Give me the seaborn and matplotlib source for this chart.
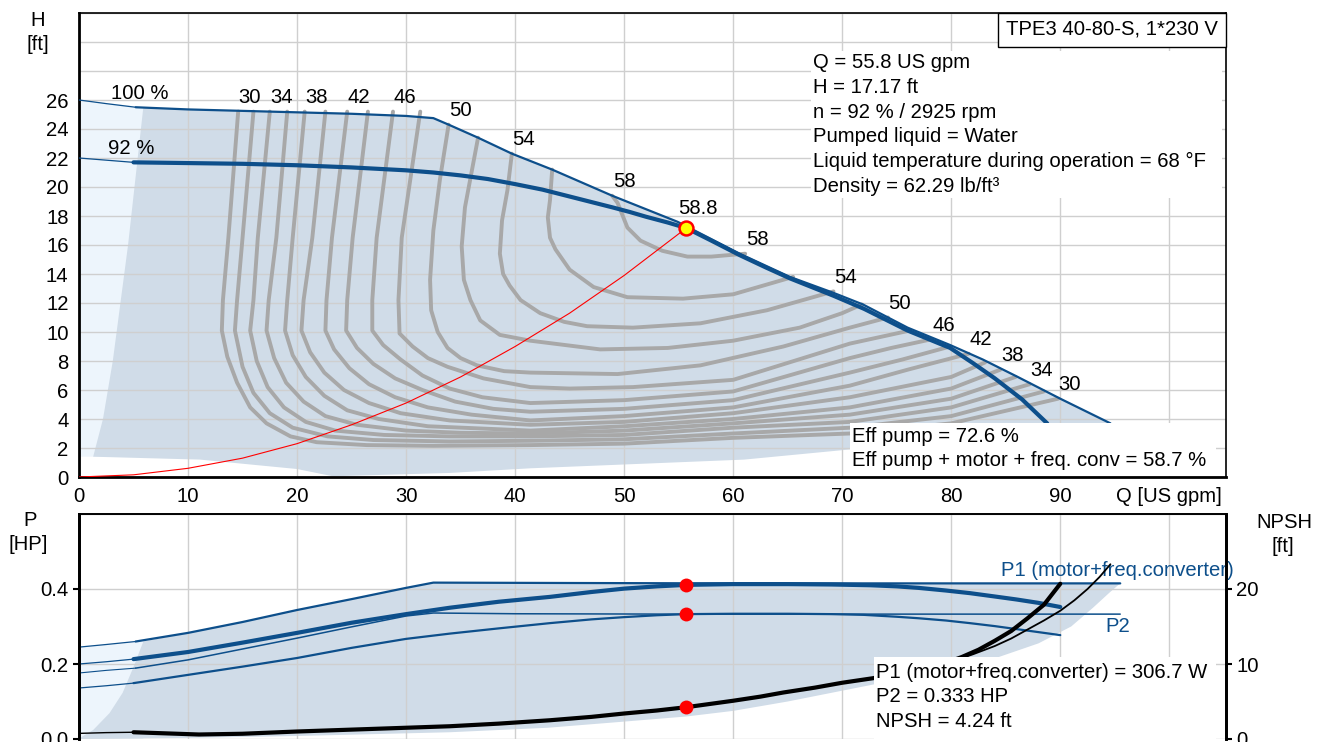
import matplotlib
matplotlib.use("Agg")
import matplotlib.pyplot as plt
import matplotlib.patches as mpatches
import pandas as pd
import seaborn as sns

# ---- QH curves (Q in US gpm, H in ft) ----
full_thin_q = [0, 2.5, 5.2]
full_thin_h = [26.0, 25.75, 25.5]
full_q = [5.2, 10, 15, 20, 25, 30, 32.5, 33.9, 36.6, 39.7, 43.4, 48.9, 54.9, 60.6,
          65.2, 69.2, 71.9, 76.0, 79.9, 82.9, 86.1, 90.0, 94.6]
full_h = [25.5, 25.35, 25.25, 25.15, 25.05, 24.9, 24.75, 24.3, 23.4, 22.3, 21.2, 19.4,
          17.6, 15.4, 13.8, 12.7, 11.9, 10.3, 9.1, 8.1, 6.9, 5.4, 3.7]

part_thin_q = [0, 2.5, 5.0]
part_thin_h = [22.0, 21.85, 21.7]
part_q = [5.0, 10, 15, 20, 25, 30, 32.5, 35, 37.5, 40, 42.5, 44.6, 46.8, 48.9, 50.5,
          52, 54, 55.7, 58, 60.6, 63, 65.2, 69.2, 72, 76, 79.9, 82, 84, 86.5, 88.8]
part_h = [21.7, 21.65, 21.6, 21.5, 21.35, 21.15, 21.0, 20.8, 20.55, 20.2, 19.82, 19.42,
          19.0, 18.6, 18.28, 17.95, 17.55, 17.17, 16.3, 15.3, 14.45, 13.7, 12.5, 11.6,
          10.1, 8.9, 7.85, 6.8, 5.35, 3.7]

sys_q = [0, 5, 10, 15, 20, 25, 30, 35, 40, 45, 50, 55.7]
sys_h = [0, 0.15, 0.6, 1.3, 2.3, 3.6, 5.1, 6.9, 9.0, 11.3, 13.9, 17.17]

duty_q, duty_h = 55.7, 17.17

# operating area
area_left_q = [1.3, 2.2, 3.1, 4.5, 5.9]
area_left_h = [1.4, 4.0, 8.0, 16.0, 25.5]
area_low_q = [94.6, 85, 70.7, 61, 41.4, 34, 23.3, 22.7, 20, 11.1, 1.3]
area_low_h = [3.7, 3.0, 1.9, 1.2, 0.6, 0.28, 0.05, 0.14, 0.55, 1.2, 1.4]

# efficiency contours (Q, H)
eff_30 = [(14.6, 25.2), (13.7, 16.5), (13.2, 12.2), (13.1, 10.1), (13.6, 8.3), (14.5, 6.5),
          (15.7, 4.8), (17.2, 3.7), (19.4, 2.8), (21.8, 2.4), (26.4, 2.2), (32.5, 2.15),
          (41.4, 2.2), (50, 2.3), (60, 2.7), (70.7, 3.0), (80, 3.7), (89.8, 5.4)]
eff_32 = [(16.0, 25.2), (15.0, 16.5), (14.5, 12.2), (14.3, 10.1), (15.0, 7.6), (16.0, 5.8),
          (17.5, 4.4), (19.6, 3.4), (22.8, 2.8), (27, 2.55), (34, 2.45), (41.4, 2.5),
          (50, 2.6), (60, 3.0), (70.7, 3.4), (80, 4.2), (88.5, 5.9)]
eff_34 = [(17.5, 25.2), (16.4, 16.5), (16.0, 12.2), (15.7, 10.1), (16.3, 8.0), (17.3, 6.2),
          (18.8, 4.8), (20.8, 3.8), (23.5, 3.2), (28, 2.9), (34, 2.8), (41.4, 2.8),
          (50, 2.9), (60, 3.4), (70.7, 3.8), (80, 4.8), (87.2, 6.4)]
eff_36 = [(19.1, 25.2), (18.1, 16.5), (17.4, 12.2), (17.2, 10.1), (17.9, 8.2), (19.0, 6.5),
          (20.6, 5.2), (22.6, 4.2), (25.5, 3.6), (30, 3.2), (35, 3.05), (41.4, 3.0),
          (50, 3.2), (60, 3.7), (70.7, 4.3), (80, 5.4), (85.9, 6.9)]
eff_38 = [(20.7, 25.2), (19.6, 16.5), (19.1, 12.2), (18.9, 10.1), (19.6, 8.4), (20.8, 6.9),
          (22.5, 5.6), (24.6, 4.6), (27.5, 4.0), (32, 3.5), (41.4, 3.2), (50, 3.5),
          (60, 4.0), (70.7, 4.8), (80, 6.1), (84.5, 7.4)]
eff_40 = [(22.6, 25.2), (21.4, 16.5), (20.6, 12.2), (20.4, 10.1), (21.2, 8.6), (22.5, 7.2),
          (24.3, 6.0), (26.6, 5.1), (29.5, 4.4), (34, 3.9), (41.4, 3.6), (50, 3.8),
          (60, 4.4), (70.7, 5.5), (80, 6.9), (83.1, 7.9)]
eff_42 = [(24.6, 25.2), (23.2, 16.5), (22.7, 12.2), (22.6, 10.1), (23.4, 8.8), (24.8, 7.5),
          (26.6, 6.4), (29, 5.5), (32, 4.8), (36, 4.3), (41.4, 3.9), (50, 4.2),
          (60, 4.8), (70.7, 6.3), (76, 7.4), (81.6, 8.5)]
eff_44 = [(26.5, 25.2), (25.1, 16.5), (24.6, 12.2), (24.5, 10.1), (25.5, 8.9), (27, 7.8),
          (29, 6.8), (31.5, 6.0), (34.5, 5.2), (38, 4.7), (41.4, 4.5), (50, 4.7),
          (60, 5.3), (70.7, 7.2), (75.5, 8.1), (79.9, 9.0)]
eff_46 = [(28.8, 25.2), (27.3, 16.5), (26.9, 12.2), (26.9, 10.1), (27.9, 9.1), (29.5, 8.1),
          (31.5, 7.0), (34, 6.1), (37, 5.5), (41.4, 5.1), (50, 5.3), (60, 5.9),
          (70.7, 8.2), (74.5, 8.9), (78.2, 9.5)]
eff_48 = [(31.3, 25.2), (29.6, 16.5), (29.3, 12.2), (29.4, 9.9), (30.6, 9.0), (32, 8.2),
          (33.8, 7.6), (37.1, 6.8), (41.4, 6.2), (45, 6.1), (50.8, 6.2), (60, 6.7),
          (70.7, 9.2), (76.2, 10.1)]
eff_50 = [(33.9, 24.3), (33.1, 20.5), (32.5, 17.0), (32.2, 13.6), (32.3, 11.5), (32.9, 10.0),
          (33.8, 8.9), (35, 8.2), (36.5, 7.7), (39, 7.3), (41.4, 7.2), (49.4, 7.1),
          (57, 7.7), (64.6, 9.0), (70.7, 10.3), (74.2, 11.0)]
eff_52 = [(36.6, 23.4), (36.1, 21.4), (35.4, 18.6), (35.1, 15.9), (35.3, 13.6), (35.9, 12.2),
          (36.8, 10.8), (38.6, 9.8), (41.4, 9.4), (47.8, 8.8), (54, 8.9), (60, 9.4),
          (66.1, 10.3), (70, 11.3), (71.8, 11.9)]
eff_54 = [(39.7, 22.3), (39.3, 19.8), (38.8, 17.7), (38.6, 15.4), (38.9, 14.0), (39.5, 13.2),
          (40.5, 12.2), (42.3, 11.3), (44.5, 10.7), (46.6, 10.4), (50.8, 10.3), (57, 10.6),
          (63.1, 11.5), (69.2, 12.8)]
eff_56 = [(43.4, 21.2), (43.2, 19.1), (43.0, 17.9), (43.2, 16.5), (43.7, 15.7), (45.0, 14.3),
          (47.2, 13.1), (50.3, 12.4), (55.4, 12.3), (60.0, 12.6), (65.5, 13.8)]
eff_58 = [(48.9, 19.4), (49.4, 18.9), (50.3, 17.2), (51.5, 16.3), (53.5, 15.6), (55.8, 15.2),
          (58, 15.2), (61.1, 15.4)]

eff_curves = {30: eff_30, 32: eff_32, 34: eff_34, 36: eff_36, 38: eff_38, 40: eff_40,
              42: eff_42, 44: eff_44, 46: eff_46, 48: eff_48, 50: eff_50, 52: eff_52,
              54: eff_54, 56: eff_56, 58: eff_58}
labelled_levels = [30, 34, 38, 42, 46, 50, 54, 58]

# ---- power / NPSH curves ----
p1_full_thin_q = [0, 2.5, 5.2]
p1_full_thin = [0.245, 0.252, 0.26]
p1_full_q = [5.2, 10, 15, 20, 25, 30, 32.5, 45, 60, 75, 95.5]
p1_full = [0.26, 0.283, 0.312, 0.344, 0.373, 0.403, 0.417, 0.416, 0.415, 0.415, 0.415]

p1_part_thin_q = [0, 2.5, 5.0]
p1_part_thin = [0.2, 0.206, 0.213]
p1_part_q = [5, 10, 15, 20, 25, 30, 34, 38.5, 43.2, 47, 50, 53, 55.7, 60, 65, 69, 72.6,
             75, 77, 79.5, 81.7, 84, 86, 88, 90]
p1_part = [0.213, 0.232, 0.257, 0.283, 0.31, 0.333, 0.35, 0.366, 0.379, 0.392, 0.401,
           0.407, 0.411, 0.413, 0.413, 0.412, 0.41, 0.407, 0.403, 0.396, 0.389, 0.38,
           0.372, 0.363, 0.352]

p2_full_thin_q = [0, 2.5, 5.2]
p2_full_thin = [0.176, 0.183, 0.189]
p2_full_q = [5.2, 10, 15, 20, 25, 30, 32.5, 40, 55, 70, 95.5]
p2_full = [0.189, 0.211, 0.24, 0.269, 0.299, 0.328, 0.336, 0.334, 0.333, 0.333, 0.333]

p2_part_thin_q = [0, 2.5, 5.0]
p2_part_thin = [0.136, 0.142, 0.149]
p2_part_q = [5, 10, 15, 20, 25, 30, 34, 38.5, 43.2, 47, 50, 53, 55.7, 60, 65, 69, 72,
             75, 77, 79.5, 81.7, 84, 86, 88, 90]
p2_part = [0.149, 0.171, 0.193, 0.216, 0.243, 0.267, 0.281, 0.295, 0.309, 0.319, 0.325,
           0.33, 0.333, 0.334, 0.334, 0.333, 0.331, 0.326, 0.322, 0.316, 0.309, 0.301,
           0.293, 0.285, 0.277]

npsh_thin_q = [0, 2.5, 5]
npsh_thin = [0.75, 0.85, 0.9]
npsh_part_q = [5, 8, 11, 15, 20, 25, 30, 34, 38.5, 43.2, 47, 50, 53, 55.7, 58, 60, 62.5,
               64.6, 67.5, 70, 72.8, 76, 79.6, 81, 82.5, 84, 85.5, 87, 88.5, 90]
npsh_part = [0.9, 0.75, 0.6, 0.7, 1.0, 1.25, 1.5, 1.7, 2.05, 2.5, 2.95, 3.4, 3.8, 4.24,
             4.7, 5.1, 5.65, 6.2, 6.85, 7.5, 8.1, 9.0, 10.2, 10.95, 11.9, 13.1, 14.4,
             16.1, 17.9, 20.7]
npsh_full_q = [72.8, 76, 78, 80, 82, 84, 85.5, 87, 88.5, 90, 91.3, 92.5, 93.6, 94.6]
npsh_full = [8.1, 9.0, 9.6, 10.3, 11.3, 12.4, 13.4, 14.6, 15.8, 17.1, 18.5, 20.0, 21.6,
             23.3]

duty_p1, duty_p2, duty_npsh = 0.411, 0.333, 4.24

parea_left_q = [0.1, 1.3, 2.8, 4.0, 5.0, 5.9]
parea_left = [0.003, 0.024, 0.069, 0.123, 0.192, 0.26]
parea_right_q = [95.5, 94.5, 93, 91, 88, 84, 80, 76, 72.8]
parea_right = [0.415, 0.39, 0.35, 0.30, 0.255, 0.215, 0.19, 0.165, 0.145]
parea_low_q = [65, 60, 55.7, 49.4, 43, 34, 20, 10, 0.1]
parea_low = [0.1, 0.075, 0.06, 0.045, 0.03, 0.018, 0.008, 0.003, 0.0]

info_lines = ["Q = 55.8 US gpm", "H = 17.17 ft", "n = 92 % / 2925 rpm",
              "Pumped liquid = Water", "Liquid temperature during operation = 68 °F",
              "Density = 62.29 lb/ft³"]
eff_lines = ["Eff pump = 72.6 %", "Eff pump + motor + freq. conv = 58.7 %"]
power_lines = ["P1 (motor+freq.converter) = 306.7 W", "P2 = 0.333 HP", "NPSH = 4.24 ft"]
title = "TPE3 40-80-S, 1*230 V"

BLUE = "#0d4f8b"
GREY = "#a8a8a8"
DARK = "#d0dce8"
LIGHT = "#edf5fc"
GRID = "#cfcfcf"
FS = 14.6

sns.set_style("white")
plt.rcParams["font.family"] = ["Liberation Sans", "DejaVu Sans"]
plt.rcParams["font.size"] = FS
plt.rcParams["text.color"] = "black"
plt.rcParams["xtick.color"] = "black"
plt.rcParams["ytick.color"] = "black"
plt.rcParams["axes.labelcolor"] = "black"

W, HP = 1325, 742
def fx(x):
    return x / W
def fy(y):
    return 1 - y / HP

fig = plt.figure(figsize=(13.25, 7.42), dpi=100)
ax = fig.add_axes([fx(79), fy(477), fx(1226) - fx(79), fy(13) - fy(477)])
axp = fig.add_axes([fx(79), fy(739), fx(1226) - fx(79), fy(514) - fy(739)])
axn = axp.twinx()

def line(a, x, y, **kw):
    sns.lineplot(x=x, y=y, sort=False, estimator=None, ax=a,
                 solid_joinstyle="round", solid_capstyle="round", **kw)

# ---------------- QH chart ----------------
ax.fill([0, 0, 5.9, 5.9], [1.4, full_thin_h[0], 25.5, 1.4], color=LIGHT, lw=0, zorder=1)
poly_q = area_left_q + [q for q in full_q if q > 5.9] + area_low_q
poly_h = area_left_h + [h for q, h in zip(full_q, full_h) if q > 5.9] + area_low_h
ax.fill(poly_q, poly_h, color=DARK, lw=0, zorder=1)

rows = []
for lvl, pts in eff_curves.items():
    for i, (q, h) in enumerate(pts):
        rows.append({"level": lvl, "i": i, "Q": q, "H": h})
eff_df = pd.DataFrame(rows)
sns.lineplot(data=eff_df, x="Q", y="H", units="level", estimator=None, sort=False,
             color=GREY, lw=2.8, ax=ax, zorder=2, solid_joinstyle="round")

line(ax, full_thin_q, full_thin_h, color=BLUE, lw=0.9, zorder=3)
line(ax, full_q, full_h, color=BLUE, lw=1.6, zorder=3)
line(ax, part_thin_q, part_thin_h, color=BLUE, lw=0.9, zorder=3)
line(ax, part_q, part_h, color=BLUE, lw=3.0, zorder=3)
line(ax, sys_q, sys_h, color="red", lw=0.8, zorder=3.5)
ax.plot([duty_q], [duty_h], "o", ms=10, mfc="#ffff00", mec="red", mew=1.8, zorder=5)

for lvl in labelled_levels:
    pts = eff_curves[lvl]
    ax.annotate(str(lvl), pts[0], xytext=(8.5, 10), textcoords="offset points",
                ha="center", va="center", fontsize=FS, zorder=6)
    ax.annotate(str(lvl), pts[-1], xytext=(8.5, 10), textcoords="offset points",
                ha="center", va="center", fontsize=FS, zorder=6)
ax.annotate("58.8", (duty_q, duty_h), xytext=(8, 14), textcoords="offset points",
            ha="center", va="center", fontsize=FS, zorder=6)
ax.annotate("100 %", (full_q[0], full_h[0]), xytext=(3, 10), textcoords="offset points",
            ha="center", va="center", fontsize=FS)
ax.annotate("92 %", (part_q[0], part_h[0]), xytext=(-2, 10), textcoords="offset points",
            ha="center", va="center", fontsize=FS)

ax.set_xlim(0, 105.2)
ax.set_ylim(0, 32)
ax.set_xticks(range(0, 101, 10))
ax.set_xticklabels([str(v) for v in range(0, 91, 10)] + ["Q [US gpm]"])
ax.set_yticks(range(0, 33, 2))
ax.set_yticklabels([str(v) if v <= 26 else "" for v in range(0, 33, 2)])
for t in ax.yaxis.get_major_ticks()[15:]:
    t.tick1line.set_visible(False)
ax.grid(True, color=GRID, lw=1)
ax.set_axisbelow("line")
ax.set_xlabel("")
ax.set_ylabel("")
ax.tick_params(direction="out", length=4.5, width=1.5, pad=3, labelsize=FS)
for s in ["left", "bottom"]:
    ax.spines[s].set_linewidth(2.0)
for s in ["top", "right"]:
    ax.spines[s].set_linewidth(1.2)
for s in ax.spines.values():
    s.set_color("black")

# ---------------- power / NPSH chart ----------------
axp.fill([0, 0, 5.9, 5.9], [0, p1_full_thin[0], 0.26, 0], color=LIGHT, lw=0, zorder=1)
pp_q = parea_left_q + [q for q in p1_full_q if q > 5.9] + parea_right_q + parea_low_q
pp_v = parea_left + [v for q, v in zip(p1_full_q, p1_full) if q > 5.9] + parea_right + parea_low
axp.fill(pp_q, pp_v, color=DARK, lw=0, zorder=1)

line(axp, p1_full_thin_q, p1_full_thin, color=BLUE, lw=0.9, zorder=3)
line(axp, p1_full_q, p1_full, color=BLUE, lw=1.6, zorder=3)
line(axp, p1_part_thin_q, p1_part_thin, color=BLUE, lw=0.9, zorder=3)
line(axp, p1_part_q, p1_part, color=BLUE, lw=3.0, zorder=3)
line(axp, p2_full_thin_q, p2_full_thin, color=BLUE, lw=0.8, zorder=3)
line(axp, p2_full_q, p2_full, color=BLUE, lw=1.1, zorder=3)
line(axp, p2_part_thin_q, p2_part_thin, color=BLUE, lw=0.9, zorder=3)
line(axp, p2_part_q, p2_part, color=BLUE, lw=1.6, zorder=3)
axp.plot([duty_q, duty_q], [duty_p1, duty_p2], "o", ms=10, color="red", mew=0, zorder=5)

line(axn, npsh_thin_q, npsh_thin, color="black", lw=1.0, zorder=3)
line(axn, npsh_part_q, npsh_part, color="black", lw=3.0, zorder=3)
line(axn, npsh_full_q, npsh_full, color="black", lw=1.3, zorder=3)
axn.plot([duty_q], [duty_npsh], "o", ms=10, color="red", mew=0, zorder=5)

axp.annotate("P1 (motor+freq.converter)", (p1_full_q[-1], p1_full[-1]), xytext=(-2, 9),
             textcoords="offset points", ha="center", va="center", color=BLUE, fontsize=FS)
axp.annotate("P2", (p2_full_q[-1], p2_full[-1]), xytext=(-2, -9),
             textcoords="offset points", ha="center", va="center", color=BLUE, fontsize=FS)

axp.set_xlim(0, 105.2)
axp.set_ylim(0, 0.6)
axp.set_xticks(range(0, 101, 10))
axp.set_yticks([0, 0.2, 0.4, 0.6])
axp.set_yticklabels(["0.0", "0.2", "0.4", ""])
axp.yaxis.get_major_ticks()[3].tick1line.set_visible(False)
axp.grid(True, color=GRID, lw=1)
axp.set_axisbelow("line")
axp.set_xlabel("")
axp.set_ylabel("")
axp.tick_params(axis="x", length=0, labelbottom=False)
axp.tick_params(axis="y", direction="out", length=4.5, width=1.5, pad=3, labelsize=FS)
axn.set_ylim(0, 30)
axn.set_yticks([0, 10, 20])
axn.set_ylabel("")
axn.tick_params(axis="y", direction="out", length=4.5, width=1.5, pad=3, labelsize=FS)
for a in (axp, axn):
    a.spines["bottom"].set_visible(False)
    a.spines["top"].set_linewidth(1.2)
    a.spines["left"].set_linewidth(2.0)
    a.spines["right"].set_linewidth(2.0)
    for s in a.spines.values():
        s.set_color("black")

# ---------------- text blocks ----------------
fig.text(fx(38), fy(20), "H", ha="center", va="center", fontsize=FS)
fig.text(fx(38), fy(44), "[ft]", ha="center", va="center", fontsize=FS)
fig.text(fx(30), fy(521), "P", ha="center", va="center", fontsize=FS)
fig.text(fx(28), fy(545), "[HP]", ha="center", va="center", fontsize=FS)
fig.text(fx(1284), fy(523), "NPSH", ha="center", va="center", fontsize=FS)
fig.text(fx(1283), fy(546), "[ft]", ha="center", va="center", fontsize=FS)

def white_box(x0, y0, x1, y1, edge="none", lw=0):
    fig.patches.append(mpatches.Rectangle((fx(x0), fy(y1)), fx(x1) - fx(x0), fy(y0) - fy(y1),
                                          transform=fig.transFigure, fc="white", ec=edge,
                                          lw=lw, zorder=10))

white_box(998, 13, 1226, 47, edge="black", lw=1.0)
fig.text(fx(1112), fy(29), title, ha="center", va="center", fontsize=FS, zorder=11)

white_box(811, 51, 1222, 198)
for i, s in enumerate(info_lines):
    fig.text(fx(813), fy(63 + i * 24.6), s, ha="left", va="center", fontsize=FS, zorder=11)

white_box(850, 423, 1216, 476)
for i, s in enumerate(eff_lines):
    fig.text(fx(852), fy(436 + i * 24.6), s, ha="left", va="center", fontsize=FS, zorder=11)

white_box(874, 657, 1216, 742)
for i, s in enumerate(power_lines):
    fig.text(fx(876), fy(672 + i * 24.6), s, ha="left", va="center", fontsize=FS, zorder=11)

fig.savefig("out.png", dpi=100)
